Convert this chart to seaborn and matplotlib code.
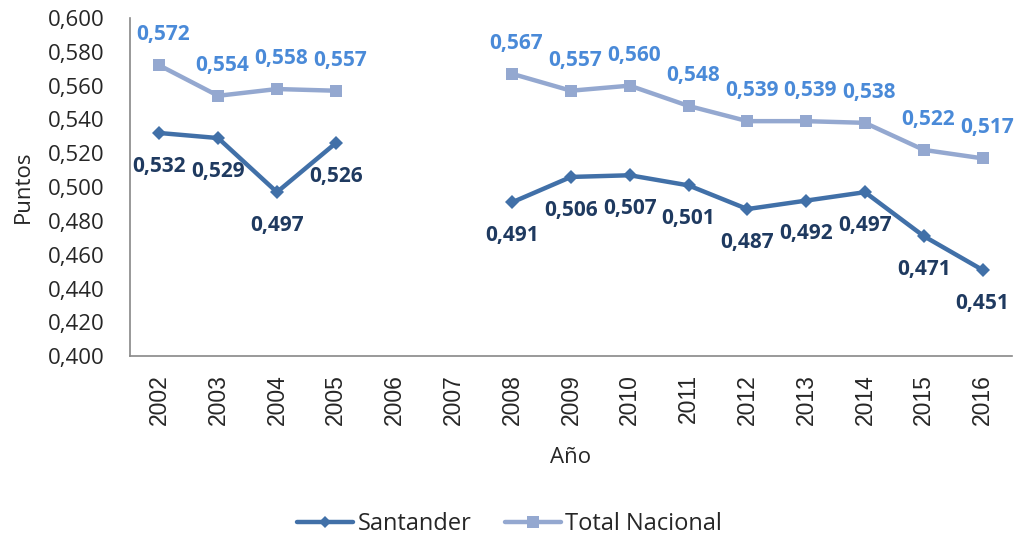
import numpy as np
import pandas as pd
import matplotlib
matplotlib.use("Agg")
import matplotlib.pyplot as plt
import seaborn as sns
from matplotlib.lines import Line2D

years = ["2002", "2003", "2004", "2005", "2006", "2007", "2008", "2009",
         "2010", "2011", "2012", "2013", "2014", "2015", "2016"]
santander = [0.532, 0.529, 0.497, 0.526, np.nan, np.nan, 0.491, 0.506,
             0.507, 0.501, 0.487, 0.492, 0.497, 0.471, 0.451]
nacional = [0.572, 0.554, 0.558, 0.557, np.nan, np.nan, 0.567, 0.557,
            0.560, 0.548, 0.539, 0.539, 0.538, 0.522, 0.517]
yticks = [0.400, 0.420, 0.440, 0.460, 0.480, 0.500, 0.520, 0.540, 0.560, 0.580, 0.600]

sns.set_style("white")
plt.rcParams['font.family'] = ['Open Sans', 'DejaVu Sans']

c_sant = "#4170A8"
c_nac = "#94A8D0"
c_sant_lbl = "#1F3A60"
c_nac_lbl = "#4A8AD8"

df = pd.DataFrame({"pos": np.arange(len(years)), "year": years,
                   "Santander": santander, "Total Nacional": nacional})

fig = plt.figure(figsize=(10.15, 5.38), dpi=100)
ax = fig.add_axes([0.128, 0.338, 0.869, 0.6285])

def segments(col):
    vals = df[col].values
    segs, cur = [], []
    for i, v in enumerate(vals):
        if np.isnan(v):
            if cur:
                segs.append(cur)
            cur = []
        else:
            cur.append(i)
    if cur:
        segs.append(cur)
    return segs

for col, color, marker, ms in [("Total Nacional", c_nac, "s", 9),
                               ("Santander", c_sant, "D", 7)]:
    for seg in segments(col):
        sub = df.iloc[seg]
        sns.lineplot(data=sub, x="pos", y=col, ax=ax, color=color,
                     linewidth=3.2, marker=marker, markersize=ms,
                     markeredgewidth=0, legend=False)

for i in range(len(years)):
    v = nacional[i]
    if not np.isnan(v):
        ax.annotate(f"{v:.3f}".replace(".", ","), (i, v), xytext=(3, 22),
                    textcoords="offset points", ha="center", va="center",
                    fontsize=15, fontweight="bold", color=c_nac_lbl)
    v = santander[i]
    if not np.isnan(v):
        ax.annotate(f"{v:.3f}".replace(".", ","), (i, v), xytext=(0, -24),
                    textcoords="offset points", ha="center", va="center",
                    fontsize=15, fontweight="bold", color=c_sant_lbl)

ax.set_xlim(-0.5, len(years) - 0.5)
ax.set_ylim(0.400, 0.600)
ax.set_yticks(yticks)
ax.set_yticklabels([f"{t:.3f}".replace(".", ",") for t in yticks], fontsize=16)
ax.set_xticks(np.arange(len(years)))
ax.set_xticklabels(years, rotation=90, fontsize=16.5, family=["Liberation Sans"])
ax.set_xticks(np.arange(-0.5, len(years)), minor=True)
ax.tick_params(axis="x", which="major", length=0, pad=13)
ax.tick_params(axis="x", which="minor", length=5, color="#888888", width=1.2)
ax.tick_params(axis="y", which="major", length=5, color="#888888", width=1.2, pad=13)

for s in ["top", "right"]:
    ax.spines[s].set_visible(False)
for s in ["left", "bottom"]:
    ax.spines[s].set_color("#888888")
    ax.spines[s].set_linewidth(1.2)

ax.set_ylabel("Puntos", fontsize=16, labelpad=10)
ax.set_xlabel("Año", fontsize=16, labelpad=16)

handles = [Line2D([], [], color=c_sant, lw=3.2, marker="D", markersize=6, markeredgewidth=0),
           Line2D([], [], color=c_nac, lw=3.2, marker="s", markersize=8, markeredgewidth=0)]
fig.legend(handles, ["Santander", "Total Nacional"], loc="center",
           bbox_to_anchor=(0.502, 0.026), ncol=2, frameon=False, fontsize=17,
           handlelength=2.37, columnspacing=1.4, handletextpad=0.2)

fig.savefig("out.png", dpi=100)
